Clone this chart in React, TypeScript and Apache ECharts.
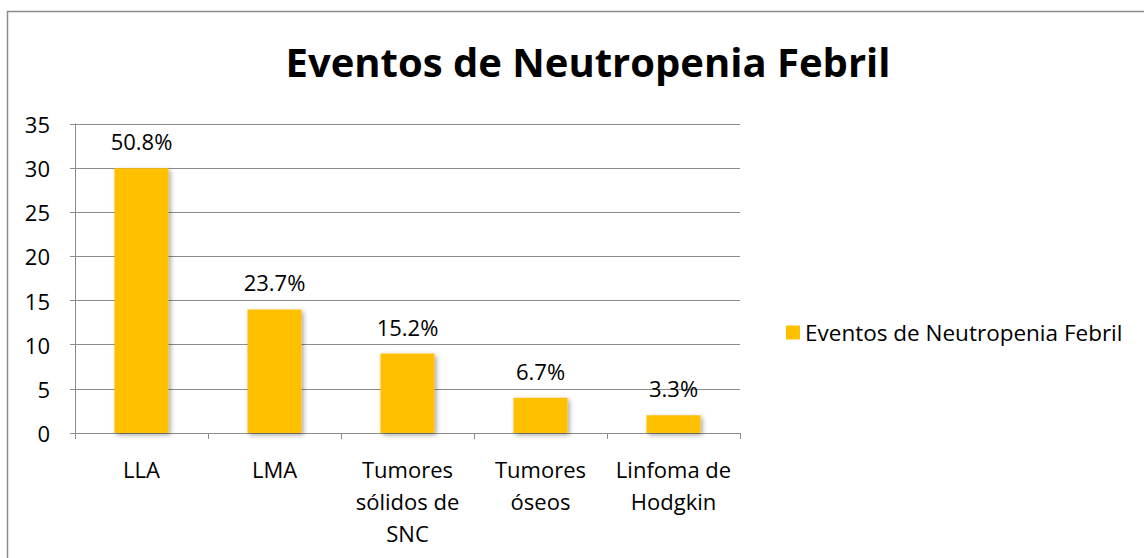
import React, { useEffect, useRef } from "react";
import * as echarts from "echarts";

const categories = ["LLA", "LMA", "Tumores\nsólidos de\nSNC", "Tumores\nóseos", "Linfoma de\nHodgkin"];
const values = [30, 14, 9, 4, 2];
const percentLabels = ["50.8%", "23.7%", "15.2%", "6.7%", "3.3%"];
const seriesName = "Eventos de Neutropenia Febril";
const titleText = "Eventos de Neutropenia Febril";

const FONT = "'Open Sans', 'Noto Sans', sans-serif";

export default function App() {
  const ref = useRef<HTMLDivElement>(null);
  useEffect(() => {
    document.body.style.margin = "0";
    const chart = echarts.init(ref.current!, null, { renderer: "svg" });
    chart.setOption({
      animation: false,
      backgroundColor: "#ffffff",
      title: {
        text: titleText,
        left: 583,
        top: 36,
        textAlign: "center",
        textStyle: { fontFamily: FONT, fontSize: 40, fontWeight: "bold", color: "#000" },
      },
      graphic: [
        {
          type: "rect",
          shape: { x: 7.5, y: 11.5, width: 1200, height: 600 },
          style: { fill: "none", stroke: "#8c8c8c", lineWidth: 1.5 },
          silent: true,
        },
      ],
      legend: {
        left: 781,
        top: 316,
        itemWidth: 14,
        itemHeight: 14,
        itemGap: 8,
        icon: "rect",
        textStyle: { fontFamily: FONT, fontSize: 22.5, color: "#000" },
        data: [seriesName],
      },
      grid: { left: 75, right: 404, top: 124, bottom: 125, containLabel: false },
      xAxis: {
        type: "category",
        data: categories,
        axisLine: { lineStyle: { color: "#8c8c8c", width: 1 } },
        axisTick: { show: true, length: 6, alignWithLabel: false, interval: 0, lineStyle: { color: "#8c8c8c" } },
        axisLabel: {
          interval: 0,
          margin: 20,
          fontFamily: FONT,
          fontSize: 22,
          lineHeight: 32,
          color: "#000",
        },
      },
      yAxis: {
        type: "value",
        min: 0,
        max: 35,
        interval: 5,
        axisLine: { show: true, lineStyle: { color: "#8c8c8c", width: 1 } },
        axisTick: { show: true, length: 5, lineStyle: { color: "#8c8c8c" } },
        splitLine: { lineStyle: { color: "#8c8c8c", width: 1 } },
        axisLabel: { fontFamily: FONT, fontSize: 22, color: "#000", margin: 25 },
      },
      series: [
        {
          name: seriesName,
          type: "bar",
          data: values,
          barWidth: 54,
          itemStyle: {
            color: "#FFC000",
            shadowBlur: 5,
            shadowOffsetX: 2,
            shadowOffsetY: 2,
            shadowColor: "rgba(0,0,0,0.35)",
          },
          label: {
            show: true,
            position: "top",
            distance: 16,
            fontFamily: FONT,
            fontSize: 22,
            color: "#000",
            formatter: (p: any) => percentLabels[p.dataIndex],
          },
        },
      ],
    });
    return () => chart.dispose();
  }, []);
  return <div ref={ref} style={{ width: 1144, height: 558 }} />;
}
